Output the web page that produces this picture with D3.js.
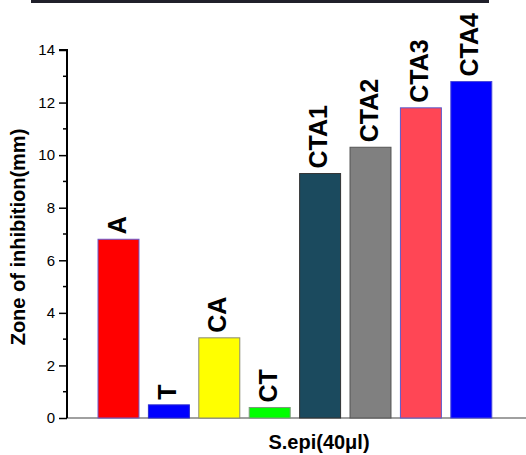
<!DOCTYPE html>
<html><head><meta charset="utf-8">
<script src="https://cdn.jsdelivr.net/npm/d3@7"></script>
<style>body{margin:0;background:#fff}svg{display:block}</style>
</head><body>
<script>
const categories = ["A","T","CA","CT","CTA1","CTA2","CTA3","CTA4"];
const values = [6.8, 0.5, 3.05, 0.4, 9.3, 10.3, 11.8, 12.8];
const fills = ["#ff0000","#0000ff","#ffff00","#00ff00","#1b4a5e","#808080","#ff4655","#0000ff"];
const strokes = ["#6a5acd","#2a2ad0","#8a8a70","#7a9a7a","#333333","#555555","#5a5acd","#4848d8"];
const yTicks = [0,2,4,6,8,10,12,14];
const yMinor = [1,3,5,7,9,11,13];

const W = 526, H = 455;
const svg = d3.select("body").append("svg").attr("width", W).attr("height", H);

// top dark strip
svg.append("rect").attr("x",31).attr("y",0).attr("width",458).attr("height",3).attr("fill","#20202a");

const y = d3.scaleLinear().domain([0,14]).range([418,50]);
const x = d3.scaleBand().domain(categories).range([93.3,496.5]).paddingInner(0.187).paddingOuter(0.0935);

// x axis line (grey)
svg.append("line").attr("x1",67).attr("x2",526).attr("y1",y(0)).attr("y2",y(0))
  .attr("stroke","#a0a0a0").attr("stroke-width",2);

// bars
svg.selectAll("rect.bar").data(categories).enter().append("rect").attr("class","bar")
  .attr("x", d=>x(d)).attr("width", x.bandwidth())
  .attr("y", (d,i)=>y(values[i])).attr("height", (d,i)=>y(0)-y(values[i]))
  .attr("fill",(d,i)=>fills[i]).attr("stroke",(d,i)=>strokes[i]).attr("stroke-width",1);

// bar labels
const fs = 25;
svg.selectAll("text.lbl").data(categories).enter().append("text").attr("class","lbl")
  .attr("transform",(d,i)=>`translate(${x(d)+x.bandwidth()/2 + fs*0.36 - 2},${y(values[i])-5}) rotate(-90)`)
  .attr("font-family","Liberation Sans, Arial, sans-serif").attr("font-weight","bold")
  .attr("font-size",fs).attr("fill","#000").text(d=>d);

// y axis
const yAxis = d3.axisLeft(y).tickValues(yTicks).tickSize(8).tickPadding(4).tickFormat(d3.format("d"));
const gy = svg.append("g").attr("transform","translate(67,0)").call(yAxis);
gy.select(".domain").attr("stroke","#000").attr("stroke-width",2).attr("d","M-8,50H0V418");
gy.selectAll(".tick line").attr("stroke","#000").attr("stroke-width",1.5);
gy.selectAll(".tick text").attr("font-family","Liberation Sans, Arial, sans-serif").attr("font-size",15).attr("fill","#000");
svg.append("g").selectAll("line").data(yMinor).enter().append("line")
  .attr("x1",63).attr("x2",67).attr("y1",d=>y(d)).attr("y2",d=>y(d))
  .attr("stroke","#000").attr("stroke-width",1.5);

// axis titles
svg.append("text").attr("transform","translate(25,237) rotate(-90)").attr("text-anchor","middle")
  .attr("font-family","Liberation Sans, Arial, sans-serif").attr("font-weight","bold").attr("font-size",20)
  .text("Zone of inhibition(mm)");
svg.append("text").attr("x",319).attr("y",449).attr("text-anchor","middle")
  .attr("font-family","Liberation Sans, Arial, sans-serif").attr("font-weight","bold").attr("font-size",20)
  .text("S.epi(40μl)");
</script>
</body></html>
